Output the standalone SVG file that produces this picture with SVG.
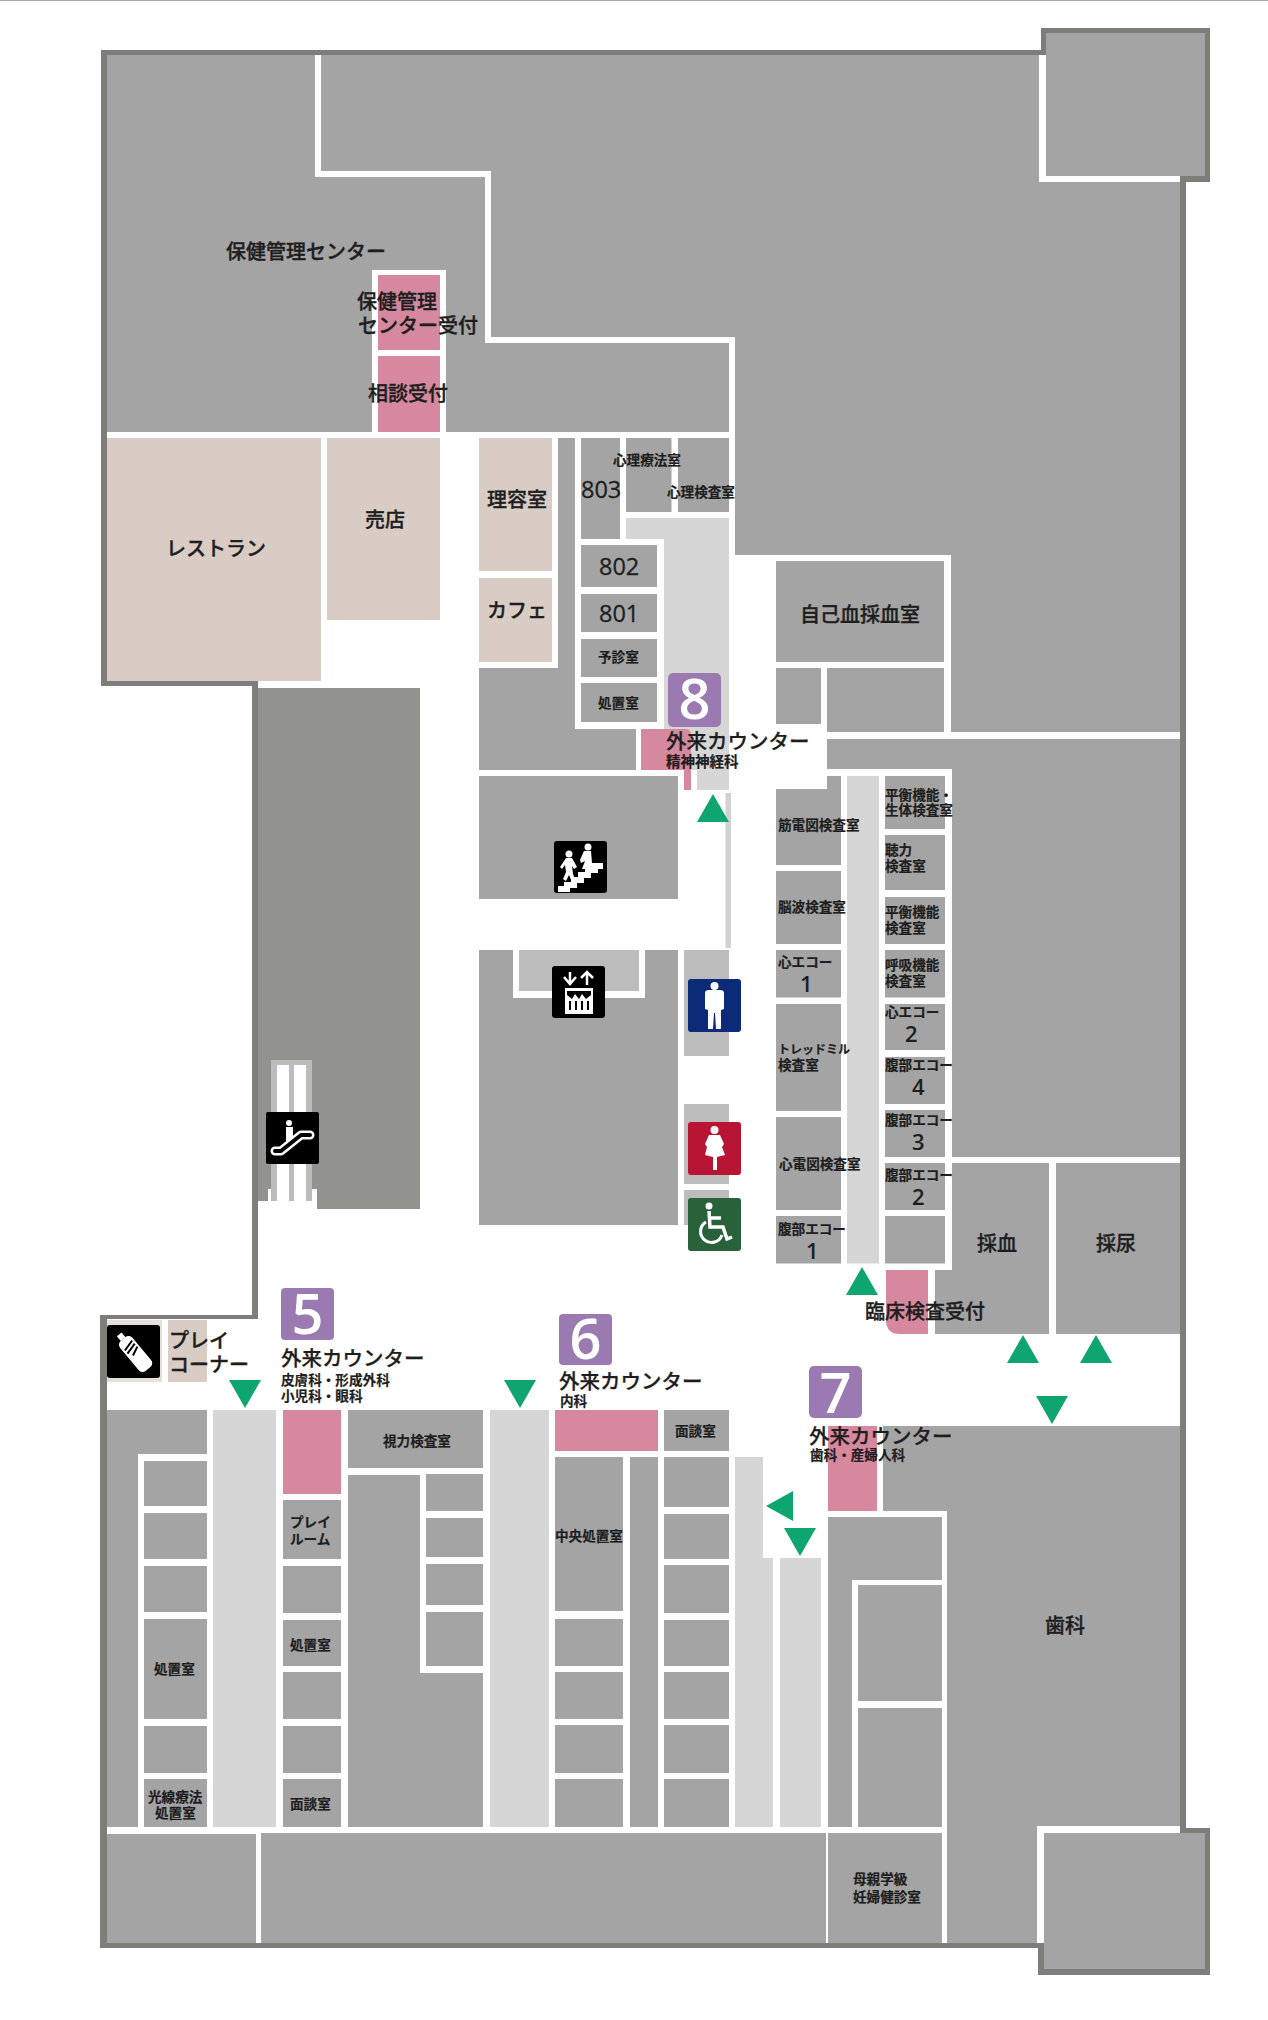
<svg xmlns="http://www.w3.org/2000/svg" width="1268" height="2020" viewBox="0 0 1268 2020">
<style>
.g{fill:#a4a4a4}.w{fill:#7d7d79}.l{fill:#d6d6d6}.p{fill:#d5889e}.b{fill:#d9ccc4}.t{fill:#bcbcbc}.d{fill:#92928e}.a{fill:#0ea56f}.v{fill:#9a7ab0}.k{fill:#000}.f{fill:#fff}
text{font-family:"Noto Sans CJK JP","Noto Sans",sans-serif;fill:#1e1e1e}
.t20{font-size:20px;font-weight:500;stroke:#1e1e1e;stroke-width:.35px}.c{font-size:20.500px;font-weight:500;stroke:#1e1e1e;stroke-width:.25px}.t14{font-size:13.600px;font-weight:700;stroke:#1e1e1e;stroke-width:.2px}.t12{font-size:12px;font-weight:700;stroke:#1e1e1e;stroke-width:.2px}.h{font-size:14.500px;font-weight:700;stroke:#1e1e1e;stroke-width:.2px}
.n{font-family:"Open Sans","Liberation Sans",sans-serif;font-size:23.500px;font-weight:500;stroke:#1e1e1e;stroke-width:.3px}
.s{font-family:"Open Sans","Liberation Sans",sans-serif;font-size:22px;font-weight:600}
.bd{font-family:"Open Sans","Liberation Sans",sans-serif;font-size:56px;font-weight:600;fill:#fff;text-anchor:middle}
.ic{stroke:#fff;fill:none}
</style>
<defs>
<g id="arrow"><path d="M0,0H32L16,28Z" class="a"/></g>
</defs>
<rect width="1268" height="2020" fill="#fff"/>
<rect width="1268" height="1" fill="#a8a8a8"/>

<g id="walls">
<path class="w" d="M101,50H1041V28H1210V182H1186V1828H1210V1975H1038V1948H100V1315H252V681H101Z"/>
<rect x="107" y="55" width="1073" height="1888" fill="#fff"/>
</g>
<g id="rooms">
<path class="g" d="M107,55H315V177H485V343H729V432H446V270H372V432H107Z"/>
<path class="g" d="M321,55H1039V182H1180V732H951V555H735V337H491V171H321Z"/>
<rect class="g" x="1046" y="33" width="159" height="143"/>
<rect class="g" x="1044" y="1833" width="161" height="136"/>
<path class="g" d="M827,739H1180V1157H952V769H827Z"/>
<rect class="b" x="107" y="438" width="214" height="243"/>
<rect class="b" x="327" y="438" width="113" height="182"/>
<rect class="b" x="479" y="438" width="73" height="133"/>
<rect class="b" x="479" y="578" width="73" height="84"/>
<rect class="p" x="378" y="275" width="62" height="75"/>
<rect class="p" x="378" y="356" width="62" height="76"/>
<path class="g" d="M479,668H558V438H575V729H636V770H479Z"/>
<rect class="g" x="581" y="438" width="39" height="101"/>
<rect class="g" x="626" y="438" width="45.500" height="74"/>
<rect class="g" x="678" y="438" width="51" height="74"/>
<path class="l" d="M626,518H729V790H697V770H664V539H626Z"/>
<rect class="g" x="581" y="545" width="76" height="42"/>
<rect class="g" x="581" y="594" width="76" height="38"/>
<rect class="g" x="581" y="639" width="76" height="38"/>
<rect class="g" x="581" y="683" width="76" height="39"/>
<path class="p" d="M641,729H686Q691,729 691,735V790H684V770H641Z"/>
<rect class="g" x="776" y="561" width="168" height="101"/>
<rect class="g" x="776" y="668" width="45" height="56"/>
<rect class="g" x="827" y="668" width="117" height="64"/>
<rect x="725.500" y="793" width="5.500" height="155" fill="#d2d2d2"/>
<path class="g" d="M776,789H827V776H841V865H776Z"/>
<rect class="g" x="776" y="871" width="65" height="73"/>
<rect class="g" x="776" y="950" width="65" height="47.500"/>
<rect class="g" x="776" y="1004" width="65" height="107"/>
<rect class="g" x="776" y="1117" width="65" height="93"/>
<rect class="g" x="776" y="1216" width="65" height="47.500"/>
<rect class="l" x="847" y="776" width="32" height="487.500"/>
<rect class="g" x="885" y="776" width="60" height="53"/>
<rect class="g" x="885" y="835" width="60" height="55"/>
<rect class="g" x="885" y="897" width="60" height="47"/>
<rect class="g" x="885" y="950" width="60" height="47.500"/>
<rect class="g" x="885" y="1004" width="60" height="46"/>
<rect class="g" x="885" y="1057" width="60" height="47"/>
<rect class="g" x="885" y="1110" width="60" height="47"/>
<rect class="g" x="885" y="1163" width="60" height="47"/>
<rect class="g" x="885" y="1216" width="60" height="47.500"/>
<path class="g" d="M952,1163H1049V1334H935V1270H952Z"/>
<rect class="g" x="1056" y="1163" width="124" height="171"/>
<path class="p" d="M886,1270H928V1334H900Q886,1334 886,1320Z"/>
<path class="d" d="M258,688H420V1209H317V1201H258Z"/>
<rect class="t" x="271" y="1060" width="41" height="141"/>
<rect class="f" x="277" y="1065" width="12" height="136"/>
<rect class="f" x="294" y="1065" width="12" height="136"/>
<rect class="f" x="268" y="1189" width="3" height="12"/>
<rect class="f" x="312" y="1189" width="5" height="12"/>
<rect class="g" x="479" y="776" width="199" height="123"/>
<path class="g" d="M479,950H513V998H645V950H678V1225H479Z"/>
<rect class="t" x="519" y="950" width="120" height="41"/>
<rect class="t" x="684" y="950" width="45" height="106"/>
<rect class="t" x="684" y="1104" width="45" height="80"/>
<rect class="t" x="684" y="1190" width="45" height="35"/>
<rect x="107" y="1320" width="55" height="62" fill="#e6dfda"/>
<rect class="b" x="168" y="1320" width="39" height="62"/>
<path class="g" d="M107,1410H207V1454H138V1827H107Z"/>
<rect class="g" x="144" y="1461" width="63" height="45"/>
<rect class="g" x="144" y="1513" width="63" height="46"/>
<rect class="g" x="144" y="1566" width="63" height="46"/>
<rect class="g" x="144" y="1619" width="63" height="100"/>
<rect class="g" x="144" y="1726" width="63" height="47"/>
<rect class="g" x="144" y="1779" width="63" height="48"/>
<rect class="l" x="213" y="1410" width="63" height="417"/>
<rect class="p" x="283" y="1410" width="58" height="84"/>
<rect class="g" x="283" y="1500" width="58" height="59"/>
<rect class="g" x="283" y="1566" width="58" height="47"/>
<rect class="g" x="283" y="1620" width="58" height="46"/>
<rect class="g" x="283" y="1672" width="58" height="47"/>
<rect class="g" x="283" y="1726" width="58" height="47"/>
<rect class="g" x="283" y="1779" width="58" height="48"/>
<rect class="g" x="348" y="1410" width="135" height="58"/>
<path class="g" d="M348,1475H420V1673H483V1827H348Z"/>
<rect class="g" x="426" y="1474" width="57" height="37"/>
<rect class="g" x="426" y="1518" width="57" height="39"/>
<rect class="g" x="426" y="1564" width="57" height="41"/>
<rect class="g" x="426" y="1612" width="57" height="54"/>
<rect class="l" x="490" y="1410" width="59" height="417"/>
<rect class="p" x="555" y="1410" width="103" height="41"/>
<rect class="g" x="664" y="1410" width="65" height="41"/>
<rect class="g" x="555" y="1457" width="68" height="154"/>
<rect class="g" x="555" y="1619" width="68" height="47"/>
<rect class="g" x="555" y="1672" width="68" height="47"/>
<rect class="g" x="555" y="1725" width="68" height="48"/>
<rect class="g" x="555" y="1779" width="68" height="48"/>
<rect class="g" x="630" y="1457" width="28" height="370"/>
<rect class="g" x="664" y="1457" width="65" height="50"/>
<rect class="g" x="664" y="1514" width="65" height="45"/>
<rect class="g" x="664" y="1565" width="65" height="48"/>
<rect class="g" x="664" y="1620" width="65" height="46"/>
<rect class="g" x="664" y="1672" width="65" height="47"/>
<rect class="g" x="664" y="1725" width="65" height="48"/>
<rect class="g" x="664" y="1779" width="65" height="48"/>
<path class="l" d="M735,1457H763V1558H773V1827H735Z"/>
<rect class="l" x="780" y="1558" width="41" height="269"/>
<rect class="p" x="828" y="1426" width="49" height="85"/>
<path class="g" d="M883,1426H1180V1826H1037V1943H947V1511H883Z"/>
<path class="g" d="M828,1517H942V1580H852V1827H828Z"/>
<rect class="g" x="858" y="1585" width="84" height="116"/>
<rect class="g" x="858" y="1708" width="84" height="119"/>
<rect class="g" x="828" y="1833" width="114" height="110"/>
<rect class="g" x="261" y="1833" width="565" height="110"/>
<rect class="g" x="107" y="1834" width="149" height="109"/>
</g>
<g id="inner-walls" class="w">
<rect x="252" y="681" width="6" height="638"/>
<rect x="101" y="681" width="157" height="5"/>
<rect x="101" y="1315" width="157" height="4"/>
<rect x="1038" y="1943" width="6" height="5"/>
</g>

<g id="arrows">
<use href="#arrow" x="229" y="1380"/>
<use href="#arrow" x="504" y="1380"/>
<use href="#arrow" transform="translate(1036,1396)"/>
<use href="#arrow" transform="translate(784,1528)"/>
<use href="#arrow" transform="translate(728,822) rotate(180) translate(-1,0)"/>
<use href="#arrow" transform="translate(878,1295) rotate(180)"/>
<use href="#arrow" transform="translate(1039,1363) rotate(180)"/>
<use href="#arrow" transform="translate(1112,1363) rotate(180)"/>
<path class="a" d="M793,1491V1521L766,1506Z"/>
</g>

<g id="badges">
<rect class="v" x="668" y="673" width="53" height="54" rx="5"/><text class="bd" x="694.500" y="719">8</text>
<rect class="v" x="281" y="1288" width="53" height="52" rx="4"/><text class="bd" x="307.500" y="1334">5</text>
<rect class="v" x="559" y="1314" width="53" height="51" rx="4"/><text class="bd" x="585.500" y="1359">6</text>
<rect class="v" x="809" y="1366" width="53" height="52" rx="5"/><text class="bd" x="835.500" y="1413">7</text>
</g>

<g id="icon-stairs" transform="translate(554,841)">
<rect class="k" width="53" height="52" rx="3"/>
<path class="f" d="M4,51V45H10V41H17V36H24V31H31V26H38V22H49V28H44V32H37V37H30V42H23V47H16V51Z"/>
<circle class="f" cx="15" cy="13" r="3.500"/><circle class="f" cx="34" cy="6" r="3.500"/>
<path class="f" d="M12,17H18L23,26L20,28L18,25L19,33L22,41H18L15,34L12,40L9,38L12,31L11,24L8,28L6,26Z"/>
<path class="f" d="M30,10H37L38,22L40,26L35,32L33,36L30,34L32,28L28,28L31,20L27,22L26,19Z"/>
</g>
<g id="icon-elevator" transform="translate(552,966)">
<rect class="k" width="53" height="52" rx="3"/>
<path class="ic" stroke-width="2.500" d="M18,6V17M12,11L18,18L24,11M35,19V7M29,12L35,6L41,12"/>
<path class="f" d="M13,22H41V48H13Z"/>
<path class="k" d="M15,25H39V29L34,33L30,28L27,33L23,28L20,33L15,29ZM17,35H19V44H17ZM23,35H25V44H23ZM29,35H31V44H29ZM35,35H37V44H35Z"/>
</g>
<g id="icon-male" transform="translate(688,979)">
<rect width="53" height="53" rx="3" fill="#0b2a78"/>
<circle class="f" cx="26.500" cy="7" r="4"/>
<path class="f" d="M17,14Q17,11 21,11H32Q36,11 36,14V30L33,31V50H28L27,34H26L25,50H20V31L17,30Z"/>
</g>
<g id="icon-female" transform="translate(688,1122)">
<rect width="53" height="53" rx="3" fill="#b81534"/>
<circle class="f" cx="26.500" cy="8" r="4"/>
<path class="f" d="M21,13H32L36,22L34,25L37,33L29,35V48H25V35L17,33L19,25L17,22Z"/>
</g>
<g id="icon-accessible" transform="translate(688,1198)">
<rect width="53" height="53" rx="3" fill="#28613a"/>
<circle class="f" cx="21" cy="8" r="3.500"/>
<path class="ic" stroke-width="3.500" d="M21,13L22,29H35L39,41L44,39M22,20H33"/>
<path class="ic" stroke-width="3" d="M18,24A11,11 0 1 0 34,37"/>
</g>
<g id="icon-escalator" transform="translate(266,1112)">
<rect class="k" width="53" height="52" rx="2"/>
<circle class="f" cx="23" cy="11" r="3"/>
<path class="f" d="M20,15H27V25L20,30Z"/>
<path d="M9,39H15L35,23H44" fill="none" stroke="#fff" stroke-width="9" stroke-linecap="round" stroke-linejoin="round"/>
<path d="M9,39H15L35,23H44" fill="none" stroke="#000" stroke-width="4" stroke-linecap="round" stroke-linejoin="round"/>
</g>
<g id="icon-bottle" transform="translate(107,1325)">
<rect class="k" width="53" height="53" rx="3"/>
<g transform="translate(27,27) rotate(-40)">
<rect class="f" x="-3" y="-23" width="6" height="6"/>
<rect class="f" x="-8" y="-17" width="16" height="39" rx="5"/>
<path d="M-6,-7L6,-10M-6,-3L6,-6M-3,2L6,-2" stroke="#000" stroke-width="2" fill="none"/>
</g>
</g>

<g id="labels">
<text class="t20" x="226" y="259">保健管理センター</text>
<text class="t20" x="357" y="309">保健管理</text>
<text class="t20" x="358" y="333">センター受付</text>
<text class="t20" x="368" y="401">相談受付</text>
<text class="t20" x="166" y="556">レストラン</text>
<text class="t20" x="365" y="527">売店</text>
<text class="t20" x="487" y="507">理容室</text>
<text class="t20" x="487" y="618">カフェ</text>
<text class="n" x="581" y="498">803</text>
<text class="n" x="599" y="575">802</text>
<text class="n" x="599" y="622">801</text>
<text class="t14" x="613" y="465">心理療法室</text>
<text class="t14" x="667" y="497">心理検査室</text>
<text class="t14" x="598" y="662">予診室</text>
<text class="t14" x="598" y="708">処置室</text>
<text class="t20" x="800" y="622">自己血採血室</text>
<text class="c" x="666" y="749">外来カウンター</text>
<text class="h" x="666" y="767">精神神経科</text>
<text class="t14" x="778" y="830">筋電図検査室</text>
<text class="t14" x="778" y="912">脳波検査室</text>
<text class="t14" x="778" y="967">心エコー</text>
<text class="s" x="800" y="992">1</text>
<text class="t12" x="778" y="1054">トレッドミル</text>
<text class="t14" x="778" y="1070">検査室</text>
<text class="t14" x="779" y="1169">心電図検査室</text>
<text class="t14" x="778" y="1234">腹部エコー</text>
<text class="s" x="806" y="1259">1</text>
<text class="t14" x="885" y="800">平衡機能・</text>
<text class="t14" x="885" y="815">生体検査室</text>
<text class="t14" x="885" y="855">聴力</text>
<text class="t14" x="885" y="871">検査室</text>
<text class="t14" x="885" y="917">平衡機能</text>
<text class="t14" x="885" y="933">検査室</text>
<text class="t14" x="885" y="970">呼吸機能</text>
<text class="t14" x="885" y="986">検査室</text>
<text class="t14" x="885" y="1017">心エコー</text>
<text class="s" x="905" y="1042">2</text>
<text class="t14" x="885" y="1070">腹部エコー</text>
<text class="s" x="912" y="1095">4</text>
<text class="t14" x="885" y="1125">腹部エコー</text>
<text class="s" x="912" y="1150">3</text>
<text class="t14" x="885" y="1180">腹部エコー</text>
<text class="s" x="912" y="1205">2</text>
<text class="t20" x="977" y="1251">採血</text>
<text class="t20" x="1096" y="1251">採尿</text>
<text class="t20" x="865" y="1319">臨床検査受付</text>
<text class="t20" x="169" y="1348">プレイ</text>
<text class="t20" x="169" y="1372">コーナー</text>
<text class="c" x="281" y="1366">外来カウンター</text>
<text class="t14" x="281" y="1385">皮膚科・形成外科</text>
<text class="t14" x="281" y="1401">小児科・眼科</text>
<text class="c" x="559" y="1389">外来カウンター</text>
<text class="t14" x="560" y="1406">内科</text>
<text class="c" x="809" y="1444">外来カウンター</text>
<text class="t14" x="810" y="1460">歯科・産婦人科</text>
<text class="t14" x="383" y="1446">視力検査室</text>
<text class="t14" x="290" y="1527">プレイ</text>
<text class="t14" x="290" y="1544">ルーム</text>
<text class="t14" x="290" y="1650">処置室</text>
<text class="t14" x="290" y="1809">面談室</text>
<text class="t14" x="154" y="1674">処置室</text>
<text class="t14" x="148" y="1802">光線療法</text>
<text class="t14" x="155" y="1818">処置室</text>
<text class="t14" x="555" y="1541">中央処置室</text>
<text class="t14" x="675" y="1436">面談室</text>
<text class="t14" x="853" y="1884">母親学級</text>
<text class="t14" x="853" y="1902">妊婦健診室</text>
<text class="t20" x="1045" y="1633">歯科</text>
</g>
</svg>
